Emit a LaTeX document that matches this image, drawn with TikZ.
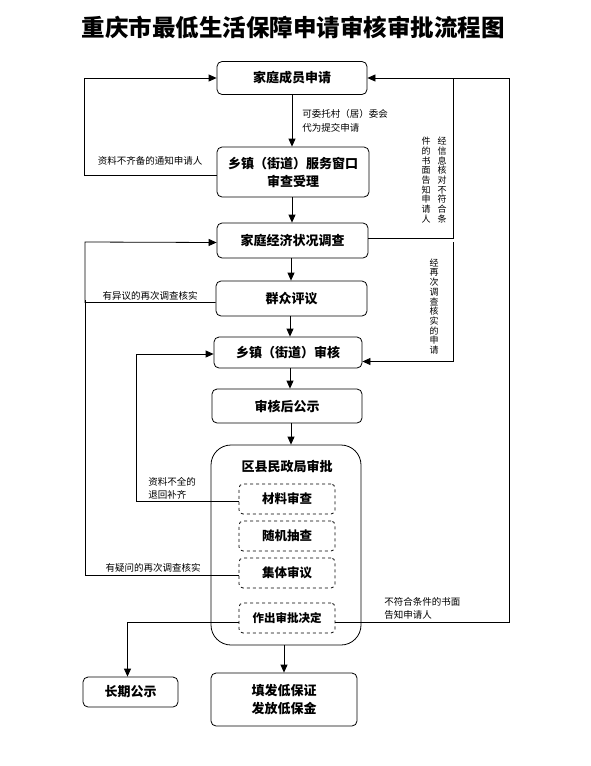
\documentclass[tikz,border=0pt]{standalone}
\usepackage{fontspec}
\setmainfont{Noto Sans CJK SC}
\usetikzlibrary{arrows.meta}
\begin{document}
\begin{tikzpicture}[x=1pt,y=-1pt,
  every path/.style={line width=0.8pt},
  box/.style={draw, rounded corners=5pt, minimum width=150pt, minimum height=34pt, inner sep=1pt,
    font=\bfseries\fontsize{13}{18}\selectfont, align=center},
  dbox/.style={draw, dashed, rounded corners=4pt, minimum width=96pt, minimum height=30pt, inner sep=1pt,
    font=\bfseries\fontsize{12.5}{15}\selectfont},
  lab/.style={font=\fontsize{9.5}{12.5}\selectfont, inner sep=0pt},
  vlab/.style={font=\fontsize{9}{9.7}\selectfont, inner sep=0pt, align=center},
  arr/.style={-{Triangle[length=8pt,width=7pt]}}]
\useasboundingbox (0,0) rectangle (590,766);

\node[font=\bfseries\fontsize{23.5}{28}\selectfont] (title) at (293,27) {重庆市最低生活保障申请审核审批流程图};

\node[box, minimum height=33pt] (a) at (292,78) {家庭成员申请};
\node[box, minimum width=152pt, minimum height=50pt] (b) at (293,172) {乡镇（街道）服务窗口\\审查受理};
\node[box, minimum width=151pt, minimum height=35pt] (c) at (292.5,240.5) {家庭经济状况调查};
\node[box, minimum width=151pt, minimum height=35pt] (d) at (291.5,298.5) {群众评议};
\node[box, minimum width=148pt, minimum height=31pt] (e) at (288,352.5) {乡镇（街道）审核};
\node[box] (f) at (287,406) {审核后公示};
\node[draw, rounded corners=20pt, minimum width=150pt, minimum height=200pt] (g) at (286,545) {};
\node[font=\bfseries\fontsize{13}{16}\selectfont] (gt) at (287,466) {区县民政局审批};
\node[dbox] (h1) at (287,499) {材料审查};
\node[dbox] (h2) at (287,536) {随机抽查};
\node[dbox] (h3) at (287,573) {集体审议};
\node[dbox, font=\bfseries\fontsize{11.5}{14}\selectfont] (h4) at (287,618) {作出审批决定};
\node[box, minimum width=95pt, minimum height=30pt] (l) at (130.5,692) {长期公示};
\node[box, minimum width=146pt, minimum height=53pt] (m) at (284,699.5) {填发低保证\\发放低保金};

% main flow
\draw[arr] (a.south -| 292,0) -- (b.north -| 292,0);
\draw[arr] (b.south -| 292,0) -- (c.north -| 292,0);
\draw[arr] (c.south -| 291,0) -- (d.north -| 291,0);
\draw[arr] (d.south -| 290,0) -- (e.north -| 290,0);
\draw[arr] (e.south -| 290,0) -- (f.north -| 290,0);
\draw[arr] (f.south -| 291,0) -- (g.north -| 291,0);
\draw[arr] (g.south -| m.north) -- (m.north);

% left loops
\draw[arr] ([yshift=-3pt]b.west) -| (84,78) -- (a.west);
\draw[arr] ([yshift=-4pt]d.west) -| (85,242) -- ([yshift=-2pt]c.west);
\draw ([yshift=-2.5pt]h3.west) -| (85,300);
\draw[arr] ([yshift=-2.5pt]h1.west) -| (136,354) -- ([yshift=-1.5pt]e.west);
\draw[arr] ([yshift=-4.5pt]h4.west) -| ([xshift=-3pt]l.north);

% right loops
\draw[arr] ([yshift=-4.5pt]h4.east) -| (509,78) -- (a.east);
\draw ([yshift=2pt]c.east) -| (453,78);
\draw[arr] (453,242) |- ([yshift=-9pt]e.east);

% labels
\node[lab, anchor=west] (la1) at (302,113.5) {可委托村（居）委会};
\node[lab, anchor=west] (la2) at (302,127.5) {代为提交申请};
\node[lab] (lb) at (150,161) {资料不齐备的通知申请人};
\node[lab] (ld) at (150,296) {有异议的再次调查核实};
\node[lab] (lh3) at (153,568) {有疑问的再次调查核实};
\node[lab, anchor=west] (lh1a) at (148,482) {资料不全的};
\node[lab, anchor=west] (lh1b) at (148,494.5) {退回补齐};
\node[lab, anchor=west] (lh4a) at (384,602) {不符合条件的书面};
\node[lab, anchor=west] (lh4b) at (384,615) {告知申请人};
\node[vlab] (v1) at (442,180) {经\\信\\息\\核\\对\\不\\符\\合\\条};
\node[vlab] (v2) at (426,180) {件\\的\\书\\面\\告\\知\\申\\请\\人};
\node[vlab] (v3) at (434,306.5) {经\\再\\次\\调\\查\\核\\实\\的\\申\\请};
\end{tikzpicture}
\end{document}
